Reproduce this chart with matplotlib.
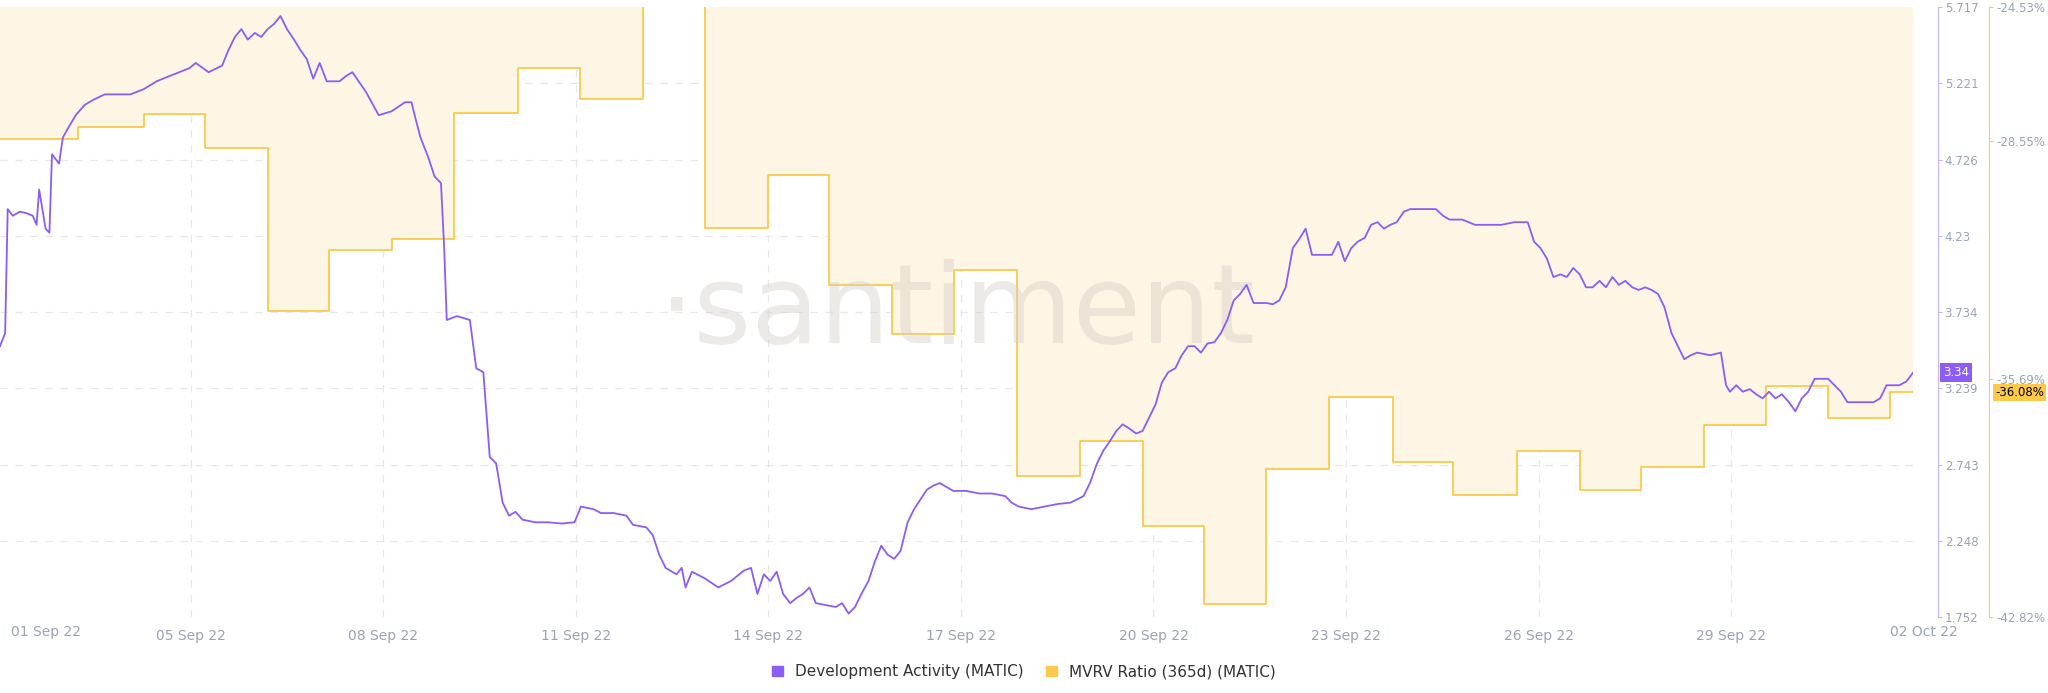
import matplotlib
matplotlib.use("Agg")
import matplotlib.pyplot as plt
import numpy as np

# Development Activity (days since 01 Sep 2022, value)
dev_t = [1.03,1.11,1.15,1.23,1.34,1.44,1.54,1.60,1.64,1.74,1.80,1.84,1.95,2.01,2.09,2.21,2.35,2.49,2.66,3.06,3.27,3.47,3.67,3.98,4.08,4.28,4.49,4.59,4.69,4.79,4.89,5.00,5.10,5.20,5.30,5.40,5.50,5.61,5.71,5.81,5.91,6.01,6.12,6.32,6.42,6.52,6.73,6.93,7.13,7.34,7.44,7.50,7.58,7.70,7.80,7.90,7.95,7.99,8.15,8.35,8.45,8.56,8.66,8.76,8.86,8.96,9.06,9.17,9.37,9.57,9.78,9.98,10.08,10.28,10.39,10.59,10.79,10.89,11.10,11.20,11.30,11.40,11.57,11.65,11.71,11.81,12.01,12.22,12.42,12.62,12.73,12.83,12.93,13.03,13.13,13.23,13.34,13.44,13.54,13.64,13.74,13.84,14.05,14.15,14.25,14.35,14.45,14.56,14.66,14.76,14.86,14.96,15.06,15.17,15.27,15.47,15.57,15.67,15.88,16.08,16.29,16.49,16.69,16.79,16.90,17.10,17.30,17.51,17.71,17.91,18.01,18.12,18.22,18.32,18.42,18.52,18.62,18.73,18.83,18.93,19.03,19.13,19.23,19.34,19.44,19.54,19.64,19.74,19.84,19.95,20.05,20.15,20.25,20.35,20.45,20.56,20.66,20.76,20.86,20.96,21.06,21.17,21.27,21.37,21.47,21.57,21.78,21.88,21.98,22.08,22.18,22.29,22.39,22.49,22.59,22.69,22.79,22.90,23.00,23.20,23.40,23.51,23.61,23.81,24.01,24.22,24.42,24.62,24.83,24.93,25.03,25.13,25.23,25.34,25.44,25.54,25.64,25.74,25.84,25.95,26.05,26.15,26.25,26.35,26.46,26.56,26.66,26.76,26.86,26.96,27.07,27.17,27.27,27.37,27.47,27.67,27.84,27.92,27.98,28.08,28.18,28.29,28.39,28.49,28.59,28.69,28.79,28.90,29.00,29.10,29.20,29.30,29.51,29.71,29.81,29.91,30.22,30.32,30.42,30.62,30.73,30.83]
dev_v = [3.514,3.599,4.404,4.361,4.387,4.378,4.361,4.302,4.531,4.277,4.251,4.760,4.700,4.870,4.929,5.014,5.081,5.115,5.149,5.149,5.183,5.234,5.268,5.319,5.353,5.293,5.336,5.437,5.522,5.573,5.505,5.548,5.522,5.573,5.607,5.658,5.573,5.505,5.437,5.378,5.251,5.353,5.234,5.234,5.268,5.293,5.166,5.014,5.039,5.098,5.098,4.997,4.870,4.743,4.616,4.573,4.150,3.684,3.709,3.684,3.370,3.345,2.794,2.752,2.498,2.413,2.438,2.387,2.370,2.370,2.362,2.370,2.472,2.455,2.430,2.430,2.413,2.354,2.337,2.286,2.159,2.074,2.032,2.074,1.947,2.049,2.006,1.947,1.989,2.057,2.074,1.905,2.032,1.989,2.049,1.905,1.845,1.879,1.905,1.947,1.845,1.837,1.820,1.845,1.777,1.820,1.905,1.989,2.116,2.218,2.159,2.133,2.184,2.370,2.455,2.582,2.608,2.625,2.574,2.574,2.557,2.557,2.540,2.498,2.472,2.455,2.472,2.489,2.498,2.540,2.625,2.752,2.836,2.896,2.963,3.006,2.980,2.947,2.963,3.048,3.133,3.277,3.345,3.370,3.455,3.514,3.514,3.472,3.531,3.540,3.599,3.684,3.811,3.853,3.912,3.794,3.794,3.794,3.786,3.811,3.896,4.150,4.209,4.277,4.107,4.107,4.107,4.192,4.065,4.150,4.192,4.217,4.302,4.319,4.277,4.302,4.319,4.387,4.404,4.404,4.404,4.361,4.336,4.336,4.302,4.302,4.302,4.319,4.319,4.192,4.150,4.082,3.963,3.980,3.963,4.022,3.980,3.896,3.896,3.938,3.896,3.963,3.912,3.938,3.896,3.879,3.896,3.879,3.853,3.768,3.599,3.514,3.429,3.455,3.472,3.455,3.472,3.260,3.218,3.260,3.218,3.235,3.201,3.175,3.218,3.175,3.201,3.150,3.091,3.175,3.218,3.302,3.302,3.218,3.150,3.150,3.150,3.175,3.260,3.260,3.285,3.340]

# MVRV Ratio (365d) step values (%), step start times (days since 01 Sep)
mvrv_t = [1.03,2.25,3.27,4.22,5.20,6.16,7.13,8.11,9.10,10.06,11.04,12.01,12.99,13.95,14.92,15.90,16.87,17.85,18.83,19.78,20.76,21.74,22.73,23.67,24.66,25.64,26.60,27.57,28.55,29.51,30.48]
mvrv_v = [-28.48,-28.13,-27.74,-28.75,-33.64,-31.80,-31.49,-27.70,-26.37,-27.30,-23.60,-31.14,-29.57,-32.85,-34.34,-32.42,-38.59,-37.54,-40.09,-42.43,-38.36,-36.22,-38.17,-39.15,-37.82,-38.99,-38.32,-37.04,-35.90,-36.84,-36.08]

x_ticks = [4,7,10,13,16,19,22,25,28]
x_labels = ["05 Sep 22","08 Sep 22","11 Sep 22","14 Sep 22","17 Sep 22","20 Sep 22","23 Sep 22","26 Sep 22","29 Sep 22"]
dev_ticks = [1.752,2.248,2.743,3.239,3.734,4.23,4.726,5.221,5.717]
mvrv_ticks = [-42.82,-35.69,-28.55,-24.53]

PURPLE = "#8b5cf6"
ORANGE = "#fcc94a"
FILL = "#fef6e4"
TXT = "#9aa3b5"

fig = plt.figure(figsize=(20.48, 6.93), dpi=100)
ax = fig.add_axes([0.0, 0.109, 0.934, 0.881])
ax.set_xlim(1.03, 30.83)
ax.set_ylim(min(dev_ticks), max(dev_ticks))
for s in ax.spines.values():
    s.set_visible(False)
ax.set_yticks([])
ax.set_xticks(x_ticks)
ax.set_xticklabels(x_labels, color=TXT, fontsize=10)
ax.tick_params(axis='x', length=0, pad=8)
for t in x_ticks:
    ax.axvline(t, color="#e6e8ee", lw=0.9, ls=(0, (6, 6)), zorder=0)
for y in dev_ticks[1:-1]:
    ax.axhline(y, color="#e6e8ee", lw=0.9, ls=(0, (6, 6)), zorder=0)
ax.text(1.74, -0.012, "01 Sep 22", transform=ax.get_xaxis_transform(), ha='center', va='top', color=TXT, fontsize=10)
ax.text(31.0, -0.012, "02 Oct 22", transform=ax.get_xaxis_transform(), ha='center', va='top', color=TXT, fontsize=10)

# MVRV axis
ax3 = ax.twinx()
ax3.set_ylim(min(mvrv_ticks), max(mvrv_ticks))
ax3.step(mvrv_t + [30.83], mvrv_v + [mvrv_v[-1]], where='post', color=ORANGE, lw=1.3, zorder=3)
ax3.fill_between(mvrv_t + [30.83], mvrv_v + [mvrv_v[-1]], max(mvrv_ticks) + 5, step='post', color=FILL, zorder=0, lw=0)
for k in ['top', 'left', 'bottom']:
    ax3.spines[k].set_visible(False)
ax3.spines['right'].set_position(('axes', 1.04))
ax3.spines['right'].set_color(ORANGE)
ax3.set_yticks(mvrv_ticks)
ax3.set_yticklabels([f"{v:.2f}%" for v in mvrv_ticks], color=TXT, fontsize=8.5)
ax3.tick_params(axis='y', colors=ORANGE, labelcolor=TXT, length=3, pad=2)
ax3.text(1.04 + 0.003, (mvrv_v[-1] - min(mvrv_ticks)) / (max(mvrv_ticks) - min(mvrv_ticks)), f"{mvrv_v[-1]:.2f}%",
         transform=ax3.transAxes, ha='left', va='center', fontsize=8.5, color='black',
         bbox=dict(boxstyle='square,pad=0.2', fc=ORANGE, ec='none'))

# Dev activity axis
ax2 = ax.twinx()
ax2.set_ylim(min(dev_ticks), max(dev_ticks))
ax2.text(0.5, 0.5, "·santiment", transform=ax2.transAxes, ha='center', va='center', fontsize=80, color="#d8cfc8", alpha=0.45, zorder=1)
ax2.plot(dev_t, dev_v, color=PURPLE, lw=1.3, zorder=4)
for k in ['top', 'left', 'bottom']:
    ax2.spines[k].set_visible(False)
ax2.spines['right'].set_position(('axes', 1.013))
ax2.spines['right'].set_color("#c4b5fd")
ax2.set_yticks(dev_ticks)
ax2.set_yticklabels([f"{v:g}" for v in dev_ticks], color=TXT, fontsize=8.5)
ax2.tick_params(axis='y', colors="#c4b5fd", labelcolor=TXT, length=3, pad=2)
ax2.text(1.013 + 0.003, (dev_v[-1] - min(dev_ticks)) / (max(dev_ticks) - min(dev_ticks)), f"{dev_v[-1]:.2f}",
         transform=ax2.transAxes, ha='left', va='center', fontsize=8.5, color='white',
         bbox=dict(boxstyle='square,pad=0.25', fc=PURPLE, ec='none'))
ax.set_zorder(0); ax3.set_zorder(1); ax2.set_zorder(2)
ax.patch.set_visible(False)

# legend
from matplotlib.patches import Patch
h = [Patch(color=PURPLE, label="Development Activity (MATIC)"), Patch(color=ORANGE, label="MVRV Ratio (365d) (MATIC)")]
fig.legend(handles=h, loc='lower center', bbox_to_anchor=(0.5, 0.0), ncol=2, frameon=False,
           fontsize=11, handlelength=0.7, handleheight=0.7, columnspacing=1.5, labelcolor="#333333")

fig.savefig("out.png", dpi=100)
